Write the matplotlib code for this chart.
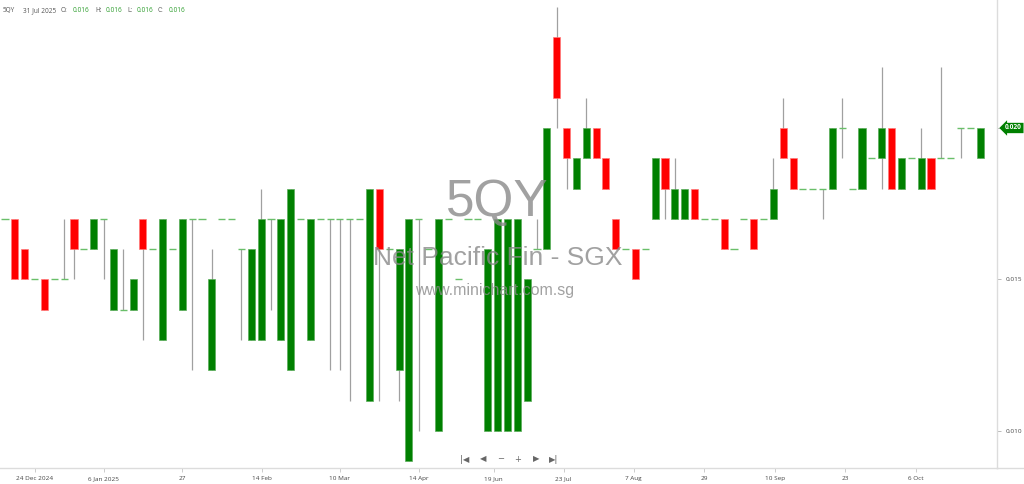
import matplotlib
matplotlib.use("Agg")
import matplotlib.pyplot as plt
import matplotlib.transforms as mtransforms
from matplotlib.lines import Line2D

# daily OHLC for 5QY, one entry per traded day (oldest first)
opens = [0.017, 0.017, 0.016, 0.015, 0.015, 0.015, 0.015, 0.017, 0.016, 0.016,
         0.017, 0.014, 0.014, 0.014, 0.017, 0.016, 0.013, 0.016, 0.014, 0.017,
         0.017, 0.012, 0.017, 0.017, 0.016, 0.013, 0.013, 0.017, 0.013, 0.012,
         0.017, 0.013, 0.017, 0.017, 0.017, 0.017, 0.017, 0.011, 0.018, 0.016,
         0.012, 0.009, 0.017, 0.016, 0.010, 0.017, 0.015, 0.017, 0.017, 0.010,
         0.010, 0.010, 0.010, 0.011, 0.016, 0.016, 0.023, 0.020, 0.018, 0.019,
         0.020, 0.019, 0.017, 0.016, 0.016, 0.016, 0.017, 0.019, 0.017, 0.017,
         0.018, 0.017, 0.017, 0.017, 0.016, 0.017, 0.017, 0.017, 0.017, 0.020,
         0.019, 0.018, 0.018, 0.018, 0.018, 0.020, 0.018, 0.018, 0.019, 0.019,
         0.020, 0.018, 0.019, 0.018, 0.019, 0.019, 0.019, 0.020, 0.020, 0.019]
highs = [0.017, 0.017, 0.016, 0.015, 0.015, 0.015, 0.017, 0.017, 0.016, 0.017,
         0.017, 0.016, 0.016, 0.015, 0.017, 0.016, 0.017, 0.016, 0.017, 0.017,
         0.017, 0.016, 0.017, 0.017, 0.016, 0.016, 0.018, 0.017, 0.017, 0.018,
         0.017, 0.017, 0.017, 0.017, 0.017, 0.017, 0.017, 0.018, 0.018, 0.016,
         0.016, 0.017, 0.017, 0.016, 0.017, 0.017, 0.015, 0.017, 0.017, 0.016,
         0.017, 0.017, 0.017, 0.015, 0.017, 0.020, 0.024, 0.020, 0.019, 0.021,
         0.020, 0.019, 0.017, 0.016, 0.016, 0.016, 0.019, 0.019, 0.019, 0.018,
         0.018, 0.017, 0.017, 0.017, 0.016, 0.017, 0.017, 0.017, 0.019, 0.021,
         0.019, 0.018, 0.018, 0.018, 0.020, 0.021, 0.018, 0.020, 0.019, 0.022,
         0.020, 0.019, 0.019, 0.020, 0.019, 0.022, 0.019, 0.020, 0.020, 0.020]
lows = [0.017, 0.015, 0.015, 0.015, 0.014, 0.015, 0.015, 0.015, 0.016, 0.016,
        0.015, 0.014, 0.014, 0.014, 0.013, 0.016, 0.013, 0.016, 0.014, 0.012,
        0.017, 0.012, 0.017, 0.017, 0.013, 0.013, 0.013, 0.014, 0.013, 0.012,
        0.017, 0.013, 0.017, 0.012, 0.012, 0.011, 0.017, 0.011, 0.011, 0.016,
        0.011, 0.009, 0.010, 0.016, 0.010, 0.017, 0.015, 0.017, 0.017, 0.010,
        0.010, 0.010, 0.010, 0.011, 0.016, 0.016, 0.020, 0.018, 0.018, 0.019,
        0.019, 0.018, 0.016, 0.016, 0.015, 0.016, 0.017, 0.017, 0.017, 0.017,
        0.017, 0.017, 0.017, 0.016, 0.016, 0.017, 0.016, 0.017, 0.017, 0.019,
        0.018, 0.018, 0.018, 0.017, 0.018, 0.019, 0.018, 0.018, 0.019, 0.018,
        0.018, 0.018, 0.019, 0.018, 0.018, 0.019, 0.019, 0.019, 0.020, 0.019]
closes = [0.017, 0.015, 0.015, 0.015, 0.014, 0.015, 0.015, 0.016, 0.016, 0.017,
          0.017, 0.016, 0.014, 0.015, 0.016, 0.016, 0.017, 0.016, 0.017, 0.017,
          0.017, 0.015, 0.017, 0.017, 0.016, 0.016, 0.017, 0.017, 0.017, 0.018,
          0.017, 0.017, 0.017, 0.017, 0.017, 0.017, 0.017, 0.018, 0.016, 0.016,
          0.016, 0.017, 0.017, 0.016, 0.017, 0.017, 0.015, 0.017, 0.017, 0.016,
          0.017, 0.017, 0.017, 0.015, 0.016, 0.020, 0.021, 0.019, 0.019, 0.020,
          0.019, 0.018, 0.016, 0.016, 0.015, 0.016, 0.019, 0.018, 0.018, 0.018,
          0.017, 0.017, 0.017, 0.016, 0.016, 0.017, 0.016, 0.017, 0.018, 0.019,
          0.018, 0.018, 0.018, 0.018, 0.020, 0.020, 0.018, 0.020, 0.019, 0.020,
          0.018, 0.019, 0.019, 0.019, 0.018, 0.019, 0.019, 0.020, 0.020, 0.020]

# date labels along the bottom (position = candle index)
tick_pos = [3, 10, 18, 26.1, 34, 42, 49.6, 56.7, 63.8, 71, 78.2, 85.3, 92.5]
tick_labels = ['24 Dec 2024', '6 Jan 2025', '27', '14 Feb', '10 Mar', '14 Apr', '19 Jun',
               '23 Jul', '7 Aug', '29', '10 Sep', '23', '6 Oct']
price_ticks = [0.010, 0.015, 0.020]
last_price = 0.020

UP = '#008000'
DOWN = '#ff0000'
WICK = '#a0a0a0'
DOJI = '#6abf6a'
SMALL = 'Open Sans'

W, H = 1024, 484
fig = plt.figure(figsize=(W / 100, H / 100), dpi=100)
ax = fig.add_axes([0, 16 / H, 997 / W, 468 / H])

x = list(range(len(opens)))
body_w = 0.72

# wicks behind the bodies
ax.vlines(x, lows, highs, color=WICK, lw=0.9, zorder=1)

for i in x:
    o, c = opens[i], closes[i]
    if o == c:
        ax.hlines(o, i - body_w / 2, i + body_w / 2, color=DOJI, lw=1.0, zorder=2)
    else:
        col = UP if c > o else DOWN
        edge = '#5aad5a' if c > o else '#ff7a7a'
        ax.bar(i, abs(c - o), bottom=min(o, c), width=body_w, color=col,
               edgecolor=edge, linewidth=0.5, zorder=2)

ax.set_xlim(-0.51, 100.7)
ax.set_ylim(0.008779, 0.024224)

# axes styling
for s in ['top', 'left']:
    ax.spines[s].set_visible(False)
for s in ['right', 'bottom']:
    ax.spines[s].set_color('#dcdcdc')
    ax.spines[s].set_linewidth(1)
fig.add_artist(Line2D([997 / W, 1], [16 / H, 16 / H], color='#dcdcdc', lw=1))

ax.set_xticks(tick_pos)
ax.set_xticklabels(tick_labels, fontsize=4.6, color='#444444', family=SMALL)
ax.yaxis.tick_right()
ax.set_yticks(price_ticks)
ax.set_yticklabels([f'{p:.3f}' for p in price_ticks], fontsize=4.6, color='#444444', family=SMALL)
ax.tick_params(axis='x', length=3, width=0.7, color='#cccccc', pad=3)
ax.tick_params(axis='y', length=3, width=0.7, color='#bbbbbb', pad=3)

# last price tag on the right axis
trans = mtransforms.blended_transform_factory(ax.transAxes, ax.transData)
ax.text(1.008, last_price, f'{last_price:.3f}', transform=trans, fontsize=4.8, color='white',
        family=SMALL, weight='bold', va='center', ha='left', clip_on=False, zorder=5,
        bbox=dict(boxstyle='larrow,pad=0.25', fc=UP, ec='none'))

# watermark
wm = dict(ha='center', va='center', family='Liberation Sans', color='#8a8a8a', alpha=0.8, zorder=4)
fig.text(497 / W, 1 - 203 / H, '5QY', fontsize=37, **wm)
fig.text(498 / W, 1 - 258 / H, 'Net Pacific Fin - SGX', fontsize=19, **wm)
fig.text(495 / W, 1 - 290 / H, 'www.minichart.com.sg', fontsize=11.5, **wm)

# header with hovered candle values
hdr_y = 1 - 10.5 / H
grey = dict(fontsize=4.7, color='#555555', family=SMALL, va='center', ha='left')
green = dict(fontsize=4.7, color='#2e9e2e', family=SMALL, va='center', ha='left')
fig.text(3 / W, hdr_y, '5QY', **grey)
fig.text(23 / W, hdr_y, '31 Jul 2025', **grey)
for px, lab, pv in [(61, 'O:', 73), (95, 'H:', 106), (127, 'L:', 137), (158, 'C:', 169)]:
    fig.text(px / W, hdr_y, lab, **grey)
    fig.text(pv / W, hdr_y, '0.016', **green)

# navigation controls
nav_y = 1 - 459 / H
for px, sym in [(465, '|◀'), (483, '◀'), (501, '−'), (518, '+'), (536, '▶'), (554, '▶|')]:
    fig.text(px / W, nav_y, sym, fontsize=6, color='#666666', family='DejaVu Sans',
             ha='center', va='center')

fig.savefig('out.png', dpi=100)
